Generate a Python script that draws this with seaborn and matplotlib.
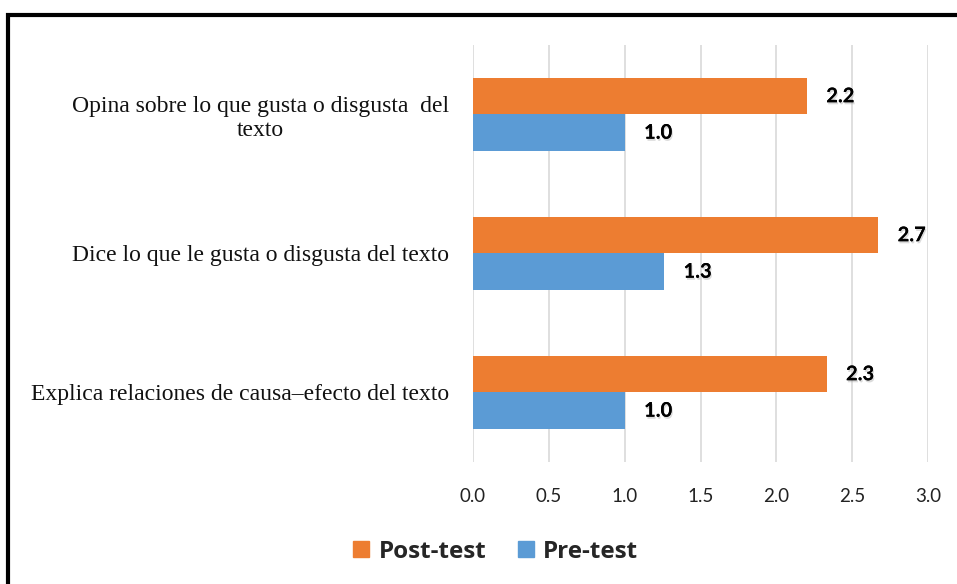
import matplotlib
matplotlib.use('Agg')
import matplotlib.pyplot as plt
import matplotlib.patheffects as pe
from matplotlib.patches import Rectangle
import pandas as pd
import seaborn as sns

categories = [
    'Opina sobre lo que gusta o disgusta  del\ntexto',
    'Dice lo que le gusta o disgusta del texto',
    'Explica relaciones de causa\u2013efecto del texto',
]
post_test = [2.2, 2.67, 2.33]
pre_test = [1.0, 1.26, 1.0]
series = ['Post-test', 'Pre-test']
colors = ['#ED7D31', '#5B9BD5']
x_ticks = [0.0, 0.5, 1.0, 1.5, 2.0, 2.5, 3.0]

df = pd.DataFrame({
    'categoria': categories * 2,
    'valor': post_test + pre_test,
    'serie': [series[0]] * 3 + [series[1]] * 3,
})

sns.set_style('white')
plt.rcParams['font.family'] = ['Lato', 'DejaVu Sans']

fig = plt.figure(figsize=(9.57, 5.84), dpi=100)
ax = fig.add_axes([0.494, 0.209, 0.476, 0.714])

sns.barplot(data=df, y='categoria', x='valor', hue='serie', hue_order=series,
            palette=colors, orient='h', width=0.525, saturation=1,
            edgecolor='none', ax=ax)

ax.set_xlim(0, 3.0)
ax.set_ylim(2.5, -0.5)
ax.set_xticks(x_ticks)
ax.set_xticklabels([f'{t:.1f}' for t in x_ticks], fontsize=13.5, color='#222222')
ax.set_xlabel('')
ax.set_ylabel('')
ax.grid(axis='x', color='#D9D9D9', linewidth=1.2)
ax.set_axisbelow(True)
for s in ax.spines.values():
    s.set_visible(False)
ax.tick_params(axis='both', length=0)
ax.tick_params(axis='x', pad=19)
ax.tick_params(axis='y', pad=17)
for lbl in ax.get_yticklabels():
    lbl.set_fontfamily(['Liberation Serif', 'DejaVu Serif'])
    lbl.set_fontsize(17)
    lbl.set_multialignment('center')
    lbl.set_color('#111111')

for cont in ax.containers:
    texts = ax.bar_label(cont, fmt='%.1f', padding=14, fontsize=14.5,
                         fontweight='bold', color='black')
    for t in texts:
        t.set_path_effects([pe.withSimplePatchShadow(offset=(0.8, -1.5), shadow_rgbFace='#999999', alpha=0.35),
                            pe.Normal()])

ax.legend_.remove()
handles = [Rectangle((0, 0), 1, 1, color=c) for c in colors]
fig.legend(handles, series, loc='center', bbox_to_anchor=(0.518, 0.055), ncol=2,
           frameon=False, prop={'family': 'Open Sans', 'weight': 'bold', 'size': 17.5},
           handlelength=0.65, handleheight=0.65, handletextpad=0.4, columnspacing=1.3)

fig.patches.append(Rectangle((0.008, -0.05), 1.05, 1.024, transform=fig.transFigure,
                             fill=False, edgecolor='black', linewidth=3, clip_on=False))

fig.savefig('out.png', dpi=100)
